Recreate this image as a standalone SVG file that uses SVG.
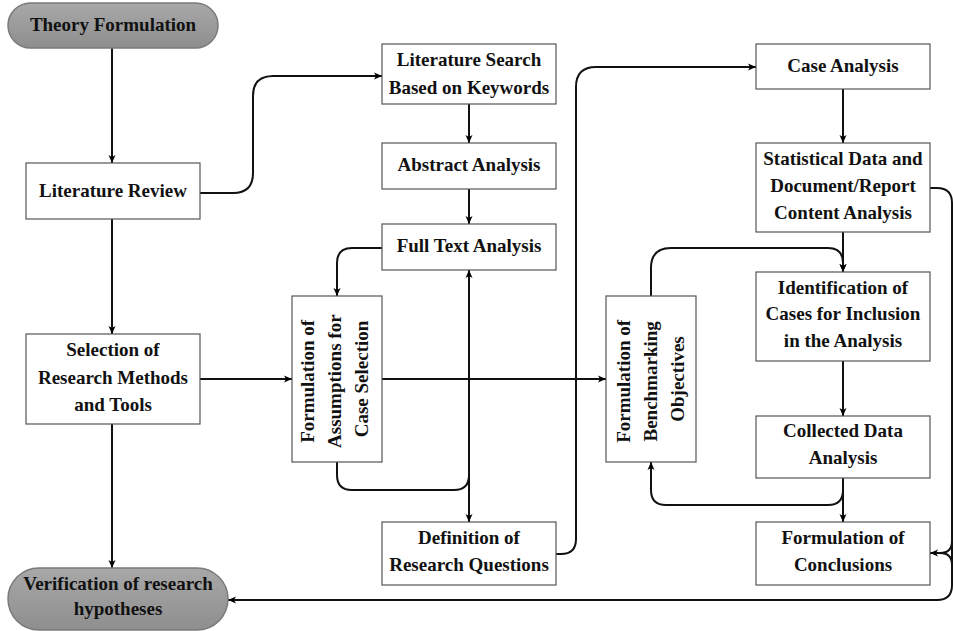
<svg xmlns="http://www.w3.org/2000/svg" width="953" height="631" viewBox="0 0 953 631">
<defs>
<marker id="ah" markerWidth="10" markerHeight="10" refX="9" refY="5" orient="auto" markerUnits="userSpaceOnUse">
<path d="M1,1.5 L9,5 L1,8.5 L3,5 Z" fill="#000"/>
</marker>
<linearGradient id="pill" x1="0" y1="0" x2="0" y2="1">
<stop offset="0" stop-color="#a8a8a8"/>
<stop offset="1" stop-color="#8e8e8e"/>
</linearGradient>
</defs>
<style>
.box{fill:#fff;stroke:#555;stroke-width:1.2}
.pill{fill:url(#pill);stroke:#7a7a7a;stroke-width:1.5}
.t{font-family:"Liberation Serif","Times New Roman",serif;font-weight:bold;font-size:19px;fill:#111;text-anchor:middle}
.c{fill:none;stroke:#111;stroke-width:2}
.a{marker-end:url(#ah)}
</style>
<rect width="953" height="631" fill="#fff"/>

<g id="connectors">
<path class="c a" d="M112,48 V163"/>
<path class="c a" d="M112,219 V334"/>
<path class="c a" d="M112,424 V568"/>
<path class="c a" d="M200,193 H233 Q253,193 253,173 V96 Q253,76 273,76 H382"/>
<path class="c a" d="M469,104 V143"/>
<path class="c a" d="M469,189 V224"/>
<path class="c a" d="M382,248 H352 Q337,248 337,263 V296"/>
<path class="c" d="M337,462 V475 Q337,490 352,490 H454 Q469,490 469,475"/>
<path class="c a" d="M469,480 V270"/>
<path class="c a" d="M469,480 V522"/>
<path class="c a" d="M200,379 H292"/>
<path class="c a" d="M382,379 H606"/>
<path class="c a" d="M556,554 H561 Q576,554 576,539 V87 Q576,67 596,67 H756"/>
<path class="c a" d="M843,89 V143"/>
<path class="c a" d="M843,232 V272"/>
<path class="c a" d="M651,296 V268 Q651,248 671,248 H828 Q843,248 843,263 V272"/>
<path class="c a" d="M843,361 V416"/>
<path class="c a" d="M843,478 V522"/>
<path class="c a" d="M843,490 Q843,505 828,505 H666 Q651,505 651,490 V462"/>
<path class="c a" d="M930,188 H937 Q952,188 952,203 V585 Q952,600 937,600 H228"/>
<path class="c a" d="M952,541 Q952,553 940,553 H930"/>
<path class="c" d="M952,565 Q952,553 940,553"/>
</g>

<g id="theory">
<rect class="pill" x="8" y="3" width="210" height="45" rx="22.5"/>
<text class="t" x="113" y="31">Theory Formulation</text>
</g>
<g id="litreview">
<rect class="box" x="26" y="163" width="174" height="56"/>
<text class="t" x="113" y="197">Literature Review</text>
</g>
<g id="selection">
<rect class="box" x="26" y="334" width="174" height="90"/>
<text class="t" x="113" y="356">Selection of</text>
<text class="t" x="113" y="384">Research Methods</text>
<text class="t" x="113" y="411">and Tools</text>
</g>
<g id="verification">
<rect class="pill" x="8" y="568" width="220" height="62" rx="31"/>
<text class="t" x="118" y="590">Verification of research</text>
<text class="t" x="118" y="615">hypotheses</text>
</g>
<g id="litsearch">
<rect class="box" x="382" y="44" width="174" height="60"/>
<text class="t" x="469" y="66">Literature Search</text>
<text class="t" x="469" y="94">Based on Keywords</text>
</g>
<g id="abstract">
<rect class="box" x="382" y="143" width="174" height="46"/>
<text class="t" x="469" y="171">Abstract Analysis</text>
</g>
<g id="fulltext">
<rect class="box" x="382" y="224" width="174" height="46"/>
<text class="t" x="469" y="252">Full Text Analysis</text>
</g>
<g id="assumptions">
<rect class="box" x="292" y="296" width="90" height="166"/>
<text class="t" transform="translate(334,379) rotate(-90)" dominant-baseline="central">
<tspan x="0" y="-27">Formulation of</tspan>
<tspan x="0" y="0">Assumptions for</tspan>
<tspan x="0" y="27">Case Selection</tspan>
</text>
</g>
<g id="definition">
<rect class="box" x="382" y="522" width="174" height="63"/>
<text class="t" x="469" y="544">Definition of</text>
<text class="t" x="469" y="571">Research Questions</text>
</g>
<g id="benchmarking">
<rect class="box" x="606" y="296" width="90" height="166"/>
<text class="t" transform="translate(650,379) rotate(-90)" dominant-baseline="central">
<tspan x="0" y="-27">Formulation of</tspan>
<tspan x="0" y="0">Benchmarking</tspan>
<tspan x="0" y="27">Objectives</tspan>
</text>
</g>
<g id="caseanalysis">
<rect class="box" x="756" y="44" width="174" height="45"/>
<text class="t" x="843" y="72">Case Analysis</text>
</g>
<g id="statistical">
<rect class="box" x="756" y="143" width="174" height="89"/>
<text class="t" x="843" y="165">Statistical Data and</text>
<text class="t" x="843" y="192">Document/Report</text>
<text class="t" x="843" y="219">Content Analysis</text>
</g>
<g id="identification">
<rect class="box" x="756" y="272" width="174" height="89"/>
<text class="t" x="843" y="294">Identification of</text>
<text class="t" x="843" y="320">Cases for Inclusion</text>
<text class="t" x="843" y="347">in the Analysis</text>
</g>
<g id="collected">
<rect class="box" x="756" y="416" width="174" height="62"/>
<text class="t" x="843" y="437">Collected Data</text>
<text class="t" x="843" y="464">Analysis</text>
</g>
<g id="conclusions">
<rect class="box" x="756" y="522" width="174" height="63"/>
<text class="t" x="843" y="544">Formulation of</text>
<text class="t" x="843" y="571">Conclusions</text>
</g>
</svg>
